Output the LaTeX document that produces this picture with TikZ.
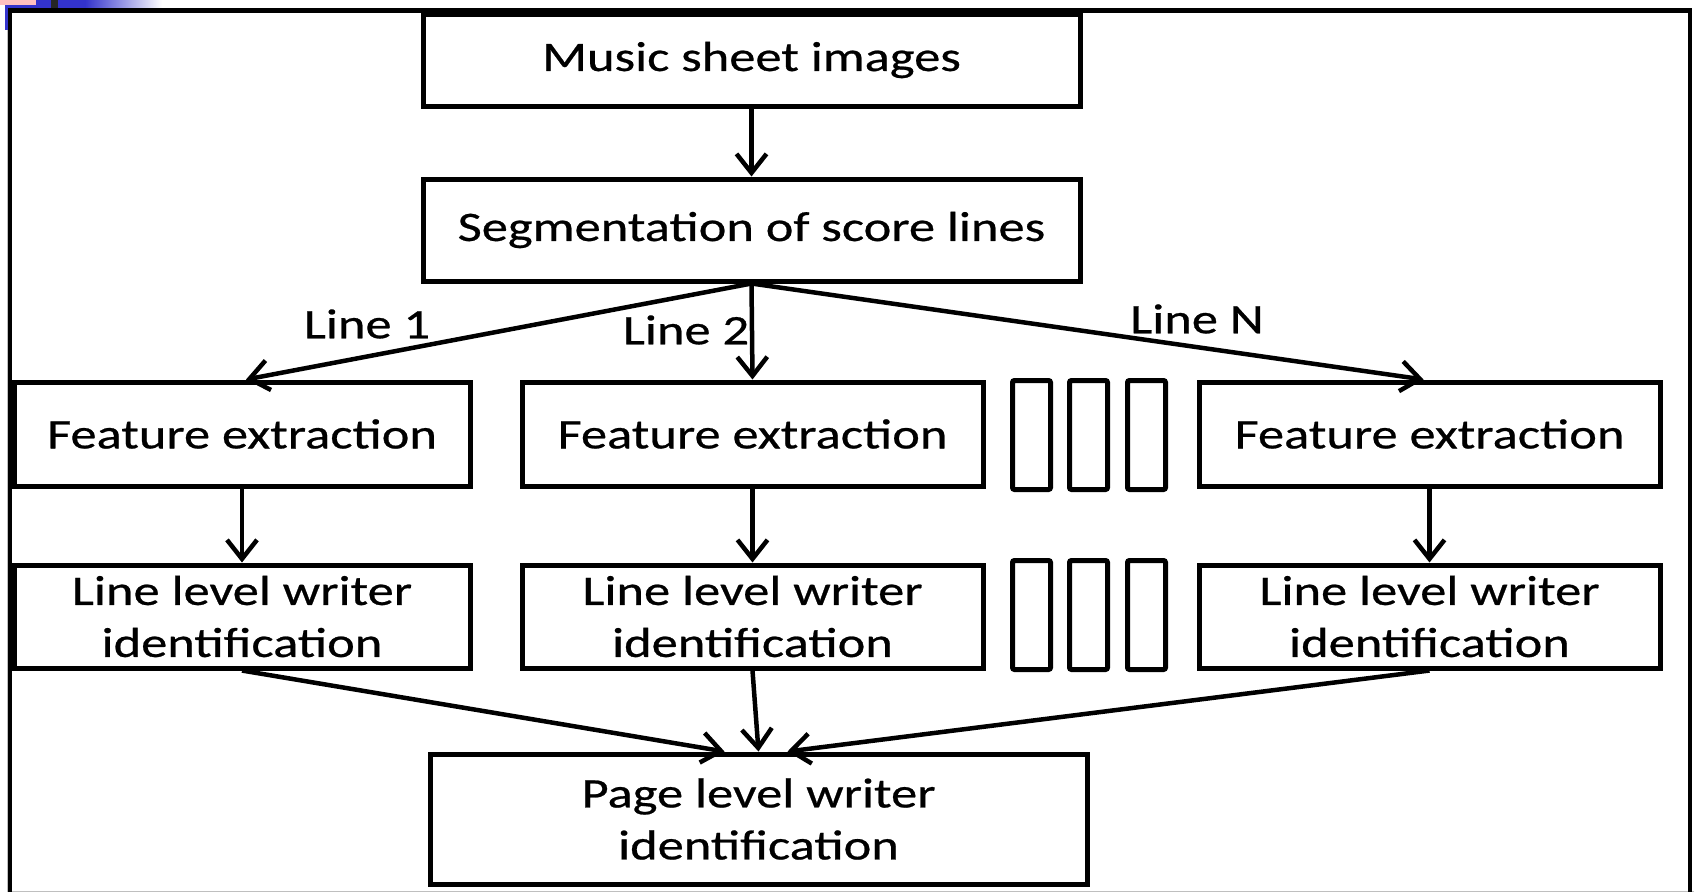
\documentclass[tikz,border=0pt]{standalone}
\usepackage{fontspec}
\newfontfamily\boxfont[FakeStretch=1.25,FakeBold=0.6]{Carlito}
\usetikzlibrary{arrows.meta,calc}
\definecolor{deco}{RGB}{51,51,204}
\definecolor{decopink}{RGB}{255,192,192}
\begin{document}
\begin{tikzpicture}[x=1pt,y=-1pt,
  txt/.style={font=\boxfont\fontsize{42}{52}\selectfont,align=center,inner sep=0pt},
  box/.style={txt,draw,line width=5pt,minimum width=#1},
  bh/.style={minimum height=#1},
  slot/.style={draw,line width=5pt,rounded corners=2pt,minimum width=38pt,minimum height=109pt,inner sep=0pt},
  arr/.style={line width=4.5pt,-{Straight Barb[length=19pt,width=30pt,line width=4.5pt]}},
  lbl/.style={txt}]
\fill[white] (0,0) rectangle (1694,892);
\useasboundingbox (0,0) rectangle (1694,892);
% corner decoration
\fill[decopink] (0,0) rectangle (36,5);
\fill[deco] (5,5) rectangle (36,8);
\fill[deco] (36,0) rectangle (86,8);
\shade[left color=deco,right color=white] (85,0) rectangle (162,8);
\fill[deco] (5,5) rectangle (9,30);
\fill[black!85] (51,0) rectangle (58,8);
\draw[black!25,line width=1pt] (7,30) -- (7,892);
\draw[black!25,line width=1pt] (10,891.5) -- (1694,891.5);
% frame
\draw[line width=4.5pt] (10,892) -- (10,10.5) -- (1690,10.5) -- (1690,892);
% nodes
\node[box=657pt,bh=92pt] (music) at (751.5,60) {Music sheet images};
\node[box=657pt,bh=102pt] (seg) at (751.5,230) {Segmentation of score lines};
\node[box=456pt,bh=104pt] (f1) at (242,434) {Feature extraction};
\node[box=461pt,bh=104pt] (f2) at (752.5,434) {Feature extraction};
\node[box=461pt,bh=104pt] (f3) at (1429.5,434) {Feature extraction};
\node[box=456pt,bh=103pt] (l1) at (242,616.5) {Line level writer\\identification};
\node[box=461pt,bh=103pt] (l2) at (752.5,616.5) {Line level writer\\identification};
\node[box=461pt,bh=103pt] (l3) at (1429.5,616.5) {Line level writer\\identification};
\node[box=657pt,bh=130pt] (page) at (758.5,819) {Page level writer\\identification};
% slots
\node[slot] (s1) at (1031.5,435) {};
\node[slot] (s2) at (1088.5,435) {};
\node[slot] (s3) at (1146.5,435) {};
\node[slot] (s4) at (1031.5,615) {};
\node[slot] (s5) at (1088.5,615) {};
\node[slot] (s6) at (1146.5,615) {};
% labels
\node[lbl] (lab1) at (367,324) {Line 1};
\node[lbl] (lab2) at (686,330) {Line 2};
\node[lbl] (labN) at (1197,319) {Line N};
% connectors
\draw[arr] (music.south) -- (seg.north);
\draw[arr] (seg.south) -- ($(f1.north)+(4,0)$);
\draw[arr] (seg.south) -- (f2.north);
\draw[arr] (seg.south) -- ($(f3.north)+(-6,0)$);
\draw[arr] (f1.south) -- (l1.north);
\draw[arr] (f2.south) -- (l2.north);
\draw[arr] (f3.south) -- (l3.north);
\draw[arr] (l1.south) -- ($(page.north)+(-34,0)$);
\draw[arr] (l2.south) -- (page.north);
\draw[arr] (l3.south) -- ($(page.north)+(29,0)$);
\end{tikzpicture}
\end{document}
